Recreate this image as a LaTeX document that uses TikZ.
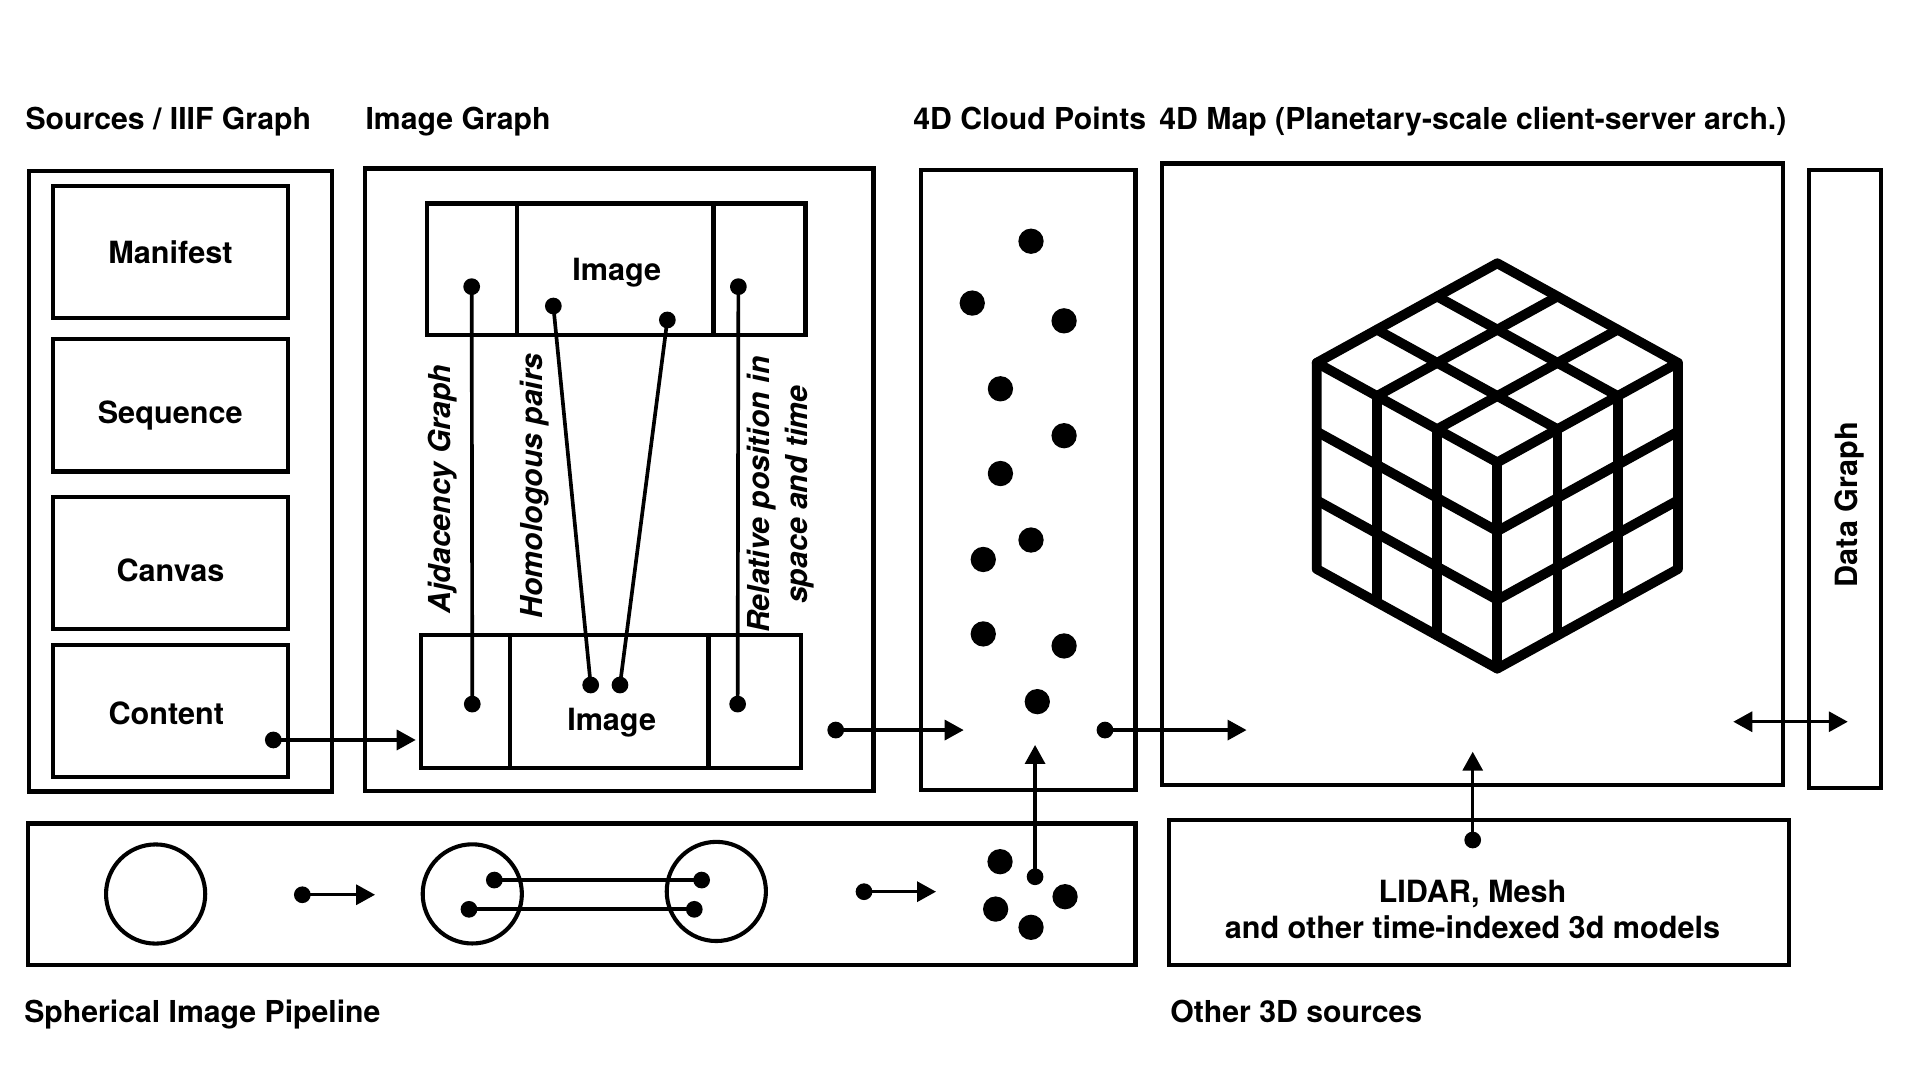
\documentclass[tikz,border=0pt]{standalone}
\usepackage{fontspec}
\setmainfont{TeX Gyre Heros}
\usetikzlibrary{arrows.meta,fit}
\begin{document}
\begin{tikzpicture}[x=0.6pt,y=-0.6pt,
  box/.style={draw,line width=2.1pt,inner sep=0pt},
  txt/.style={font=\bfseries\fontsize{15}{18}\selectfont,inner sep=0pt},
  ttl/.style={font=\bfseries\fontsize{14.8}{18}\selectfont,inner sep=0pt,anchor=base west},
  itxt/.style={font=\bfseries\itshape\fontsize{14.8}{18}\selectfont,inner sep=0pt,rotate=90,anchor=base},
  dot/.style={circle,fill,inner sep=0pt,minimum size=8.2pt},
  cdot/.style={circle,fill,inner sep=0pt,minimum size=12.4pt},
  ring/.style={circle,draw,line width=2pt,inner sep=0pt,minimum size=48.6pt},
  arr/.style={line width=1.6pt,-{Triangle[length=9.3pt,width=9.8pt]}},
  darr/.style={line width=1.6pt,{Triangle[length=9.3pt,width=9.8pt]}-{Triangle[length=9.3pt,width=9.8pt]}},
  conn/.style={line width=1.8pt},
  divline/.style={line width=2.1pt},
  cubeline/.style={line width=4.8pt,line join=round,line cap=round}]
\path[fill=white] (0,0) rectangle (1568,882);
\useasboundingbox (0,0) rectangle (1568,882);

% ---------- titles ----------
\node[ttl] (t1) at (20.5,105.4) {Sources / IIIF Graph};
\node[ttl] (t2) at (298.2,105.4) {Image Graph};
\node[ttl] (t3) at (745.5,105.4) {4D Cloud Points};
\node[ttl] (t4) at (946.5,105.4) {4D Map (Planetary-scale client-server arch.)};
\node[ttl] (t5) at (19.5,835.3) {Spherical Image Pipeline};
\node[ttl] (t6) at (955.5,835.3) {Other 3D sources};

% ---------- sources column ----------
\node[box,fit={(23.6,139.6)(270.9,646.4)}] (src) {};
\node[box,fit={(43.2,151.9)(235.2,259.7)}] (manifest) {};
\node[box,fit={(43.2,277.1)(235.2,385)}] (sequence) {};
\node[box,fit={(43.2,405.8)(235.2,513.4)}] (canvas) {};
\node[box,fit={(43.2,527)(235.2,634.6)}] (content) {};
\node[txt,anchor=base] (manifesttxt) at (139.2,215.1) {Manifest};
\node[txt,anchor=base] (sequencetxt) at (139,345.7) {Sequence};
\node[txt,anchor=base] (canvastxt) at (139.2,475) {Canvas};
\node[txt,anchor=base] (contenttxt) at (135.8,592) {Content};

% ---------- image graph ----------
\node[box,fit={(298.3,137.6)(713.4,645.7)}] (imggraph) {};
\node[box,fit={(348.7,166.3)(657.7,273.3)}] (imgtop) {};
\draw[divline] (422,166.3) -- (422,273.3);
\draw[divline] (582.6,166.3) -- (582.6,273.3);
\node[txt,anchor=base] (imgtoptxt) at (503.6,229.2) {Image};
\node[box,fit={(344.1,518.8)(654.4,627.2)}] (imgbot) {};
\draw[divline] (416.5,518.8) -- (416.5,627.2);
\draw[divline] (578.5,518.8) -- (578.5,627.2);
\node[txt,anchor=base] (imgbottxt) at (499.5,596.2) {Image};

\node[itxt] (adj) at (368,399.5) {Ajdacency Graph};
\node[itxt] (hom) at (443,396.7) {Homologous pairs};
\node[itxt] (rel1) at (628.8,404) {Relative position in};
\node[itxt] (rel2) at (659.3,404) {space and time};

\node[dot] (a1) at (385.2,234.1) {};
\node[dot] (a2) at (385.7,575) {};
\node[dot] (h1) at (451.9,249.9) {};
\node[dot] (h2) at (482.4,559.4) {};
\node[dot] (h3) at (545,261.3) {};
\node[dot] (h4) at (506.3,559.4) {};
\node[dot] (r1) at (603,234.1) {};
\node[dot] (r2) at (602.4,575) {};
\draw[conn] (a1.center) -- (a2.center);
\draw[conn] (h1.center) -- (h2.center);
\draw[conn] (h3.center) -- (h4.center);
\draw[conn] (r1.center) -- (r2.center);

% ---------- cloud points ----------
\node[box,fit={(752.1,138.6)(927.2,644.9)}] (cloud) {};
\foreach \px/\py [count=\k] in {842/197,794/247.5,869/262,817/317.5,869/355.8,817/386.7,842/441,803/456.9,803/517.7,869/527.5,847.1/573}
  \node[cdot] (cp\k) at (\px,\py) {};

% ---------- 4D map ----------
\node[box,fit={(948.9,133.6)(1456.1,640.8)}] (map) {};
\begin{scope}[shift={(1222.8,377.6)},cubeline]
  \draw (0,0) -- (-147.5,-81.3) -- (0,-162.6) -- (147.5,-81.3) -- cycle;
  \draw (-147.5,-81.3) -- (-147.5,87.1) -- (0,168.4) -- (147.5,87.1) -- (147.5,-81.3);
  \draw (0,0) -- (0,168.4);
  \foreach \i in {1,2} {
    \draw ({-147.5*\i/3},{-81.3*\i/3}) -- ({-147.5*\i/3+147.5},{-81.3*\i/3-81.3});
    \draw ({147.5*\i/3},{-81.3*\i/3}) -- ({147.5*\i/3-147.5},{-81.3*\i/3-81.3});
    \draw ({-147.5*\i/3},{-81.3*\i/3}) -- ({-147.5*\i/3},{-81.3*\i/3+168.4});
    \draw (0,{168.4*\i/3}) -- (-147.5,{168.4*\i/3-81.3});
    \draw ({147.5*\i/3},{-81.3*\i/3}) -- ({147.5*\i/3},{-81.3*\i/3+168.4});
    \draw (0,{168.4*\i/3}) -- (147.5,{168.4*\i/3-81.3});
  }
\end{scope}

% ---------- data graph ----------
\node[box,fit={(1477.6,138.6)(1536.4,643.6)}] (data) {};
\node[txt,rotate=90,anchor=base] (datatxt) at (1517,412) {Data Graph};

% ---------- spherical image pipeline ----------
\node[box,fit={(22.8,672.6)(927.2,787.8)}] (pipe) {};
\node[ring] (c1) at (127.1,730.1) {};
\node[ring] (c2) at (385.7,730) {};
\node[ring] (c3) at (585,728) {};
\node[dot] (q1) at (403.7,718.7) {};
\node[dot] (q2) at (573,718.7) {};
\node[dot] (q3) at (383,742.6) {};
\node[dot] (q4) at (567,742.6) {};
\draw[conn] (q1.center) -- (q2.center);
\draw[conn] (q3.center) -- (q4.center);
\node[cdot] (pc1) at (816.7,703.7) {};
\node[cdot] (pc2) at (869.8,732.3) {};
\node[cdot] (pc3) at (813.1,742.4) {};
\node[cdot] (pc4) at (842,757.3) {};

% ---------- other 3D sources ----------
\node[box,fit={(954.4,669.9)(1460.8,787.8)}] (other) {};
\node[txt,anchor=base] (lidar1) at (1202.5,736.9) {LIDAR, Mesh};
\node[txt,anchor=base] (lidar2) at (1202.5,766.3) {and other time-indexed 3d models};

% ---------- connectors ----------
\node[dot] (e1) at (223.2,604.3) {};
\coordinate (e1t) at (339.5,604.3);
\draw[arr] (e1.center) -- (e1t);
\node[dot] (e2) at (682.5,596.2) {};
\coordinate (e2t) at (787,596.2);
\draw[arr] (e2.center) -- (e2t);
\node[dot] (e3) at (902.4,596.2) {};
\coordinate (e3t) at (1018,596.2);
\draw[arr] (e3.center) -- (e3t);
\coordinate (dl) at (1415.5,589.4);
\coordinate (dr) at (1509,589.4);
\draw[darr] (dl) -- (dr);
\node[dot] (e4) at (1202.7,686) {};
\coordinate (e4t) at (1202.7,613.9);
\draw[arr] (e4.center) -- (e4t);
\node[dot] (e5) at (845.3,716) {};
\coordinate (e5t) at (845.3,608.4);
\draw[arr] (e5.center) -- (e5t);
\node[dot] (p1) at (246.9,730.7) {};
\coordinate (p1t) at (306.3,730.7);
\draw[arr] (p1.center) -- (p1t);
\node[dot] (p2) at (705.6,728.2) {};
\coordinate (p2t) at (764.4,728.2);
\draw[arr] (p2.center) -- (p2t);
\end{tikzpicture}
\end{document}
